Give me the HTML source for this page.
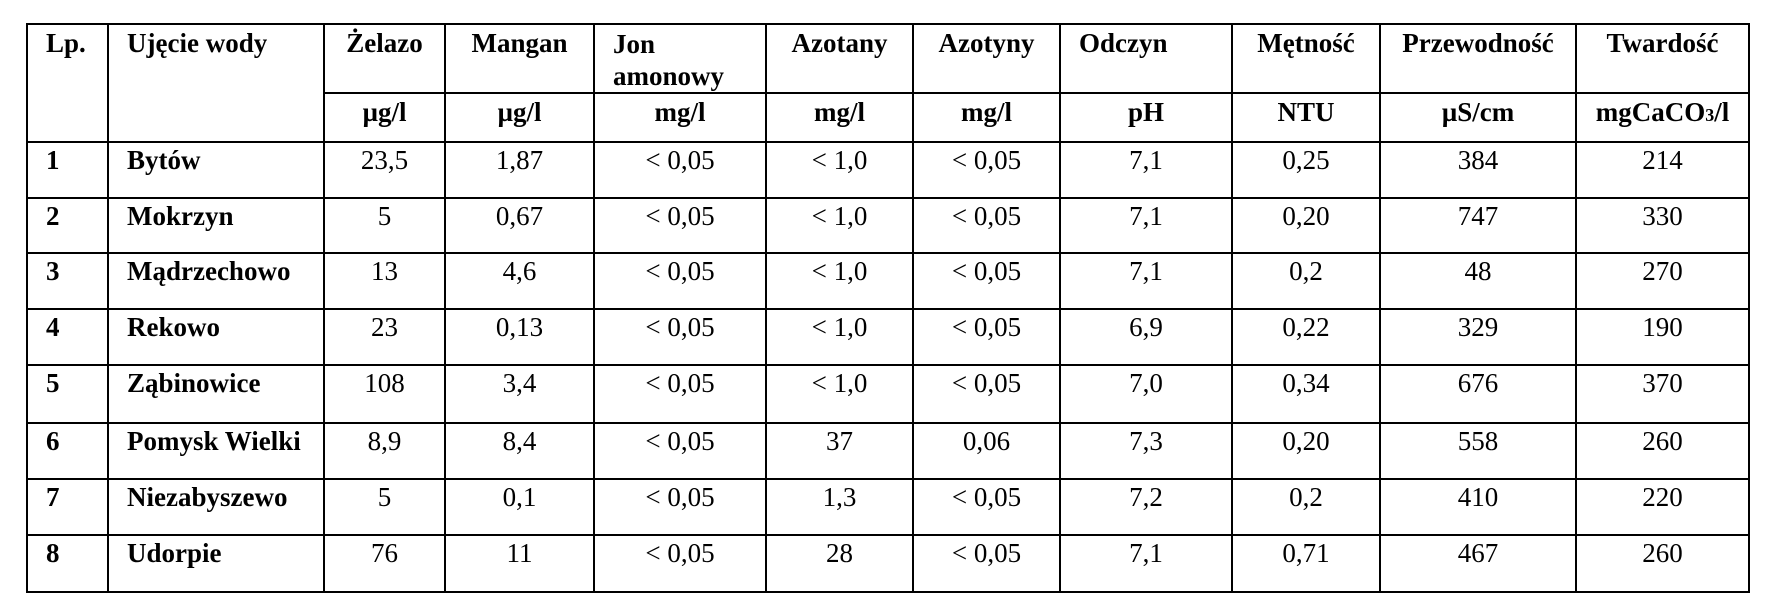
<!DOCTYPE html>
<html><head><meta charset="utf-8"><style>
html,body{margin:0;padding:0;background:#fff;width:1772px;height:612px;overflow:hidden}
table{position:absolute;left:26px;top:23px;border-collapse:collapse;table-layout:fixed;font-family:"Liberation Serif",serif;font-size:27px;color:#000}
td{border:2px solid #000;vertical-align:top;padding:2px 2px 0 2px;line-height:31px;text-align:center;box-sizing:border-box;overflow:hidden;white-space:nowrap}
.h td{font-weight:bold;padding-top:3px}
.u td{font-weight:bold;padding-top:3px}
td.l{text-align:left;padding-left:18px}
td.b{font-weight:bold}
</style></head><body>
<table>
<colgroup><col style="width:81px"><col style="width:216px"><col style="width:121px"><col style="width:149px"><col style="width:172px"><col style="width:147px"><col style="width:147px"><col style="width:172px"><col style="width:148px"><col style="width:196px"><col style="width:173px"></colgroup>
<tr class="h" style="height:65px">
<td class="l" rowspan="2">Lp.</td>
<td class="l" rowspan="2">Ujęcie wody</td>
<td>Żelazo</td>
<td>Mangan</td>
<td class="l" style="white-space:normal;line-height:32px">Jon<br>amonowy</td>
<td>Azotany</td>
<td>Azotyny</td>
<td class="l">Odczyn</td>
<td>Mętność</td>
<td>Przewodność</td>
<td>Twardość</td>
</tr>
<tr class="u" style="height:49px">
<td>µg/l</td><td>µg/l</td><td>mg/l</td><td>mg/l</td><td>mg/l</td><td>pH</td><td>NTU</td><td>µS/cm</td><td>mgCaCO<span style="font-size:18px">3</span>/l</td>
</tr>
<tr style="height:56px"><td class="l b">1</td><td class="l b">Bytów</td><td>23,5</td><td>1,87</td><td>&lt; 0,05</td><td>&lt; 1,0</td><td>&lt; 0,05</td><td>7,1</td><td>0,25</td><td>384</td><td>214</td></tr>
<tr style="height:55px"><td class="l b">2</td><td class="l b">Mokrzyn</td><td>5</td><td>0,67</td><td>&lt; 0,05</td><td>&lt; 1,0</td><td>&lt; 0,05</td><td>7,1</td><td>0,20</td><td>747</td><td>330</td></tr>
<tr style="height:56px"><td class="l b">3</td><td class="l b">Mądrzechowo</td><td>13</td><td>4,6</td><td>&lt; 0,05</td><td>&lt; 1,0</td><td>&lt; 0,05</td><td>7,1</td><td>0,2</td><td>48</td><td>270</td></tr>
<tr style="height:56px"><td class="l b">4</td><td class="l b">Rekowo</td><td>23</td><td>0,13</td><td>&lt; 0,05</td><td>&lt; 1,0</td><td>&lt; 0,05</td><td>6,9</td><td>0,22</td><td>329</td><td>190</td></tr>
<tr style="height:58px"><td class="l b">5</td><td class="l b">Ząbinowice</td><td>108</td><td>3,4</td><td>&lt; 0,05</td><td>&lt; 1,0</td><td>&lt; 0,05</td><td>7,0</td><td>0,34</td><td>676</td><td>370</td></tr>
<tr style="height:56px"><td class="l b">6</td><td class="l b">Pomysk Wielki</td><td>8,9</td><td>8,4</td><td>&lt; 0,05</td><td>37</td><td>0,06</td><td>7,3</td><td>0,20</td><td>558</td><td>260</td></tr>
<tr style="height:56px"><td class="l b">7</td><td class="l b">Niezabyszewo</td><td>5</td><td>0,1</td><td>&lt; 0,05</td><td>1,3</td><td>&lt; 0,05</td><td>7,2</td><td>0,2</td><td>410</td><td>220</td></tr>
<tr style="height:57px"><td class="l b">8</td><td class="l b">Udorpie</td><td>76</td><td>11</td><td>&lt; 0,05</td><td>28</td><td>&lt; 0,05</td><td>7,1</td><td>0,71</td><td>467</td><td>260</td></tr>
</table>
</body></html>
